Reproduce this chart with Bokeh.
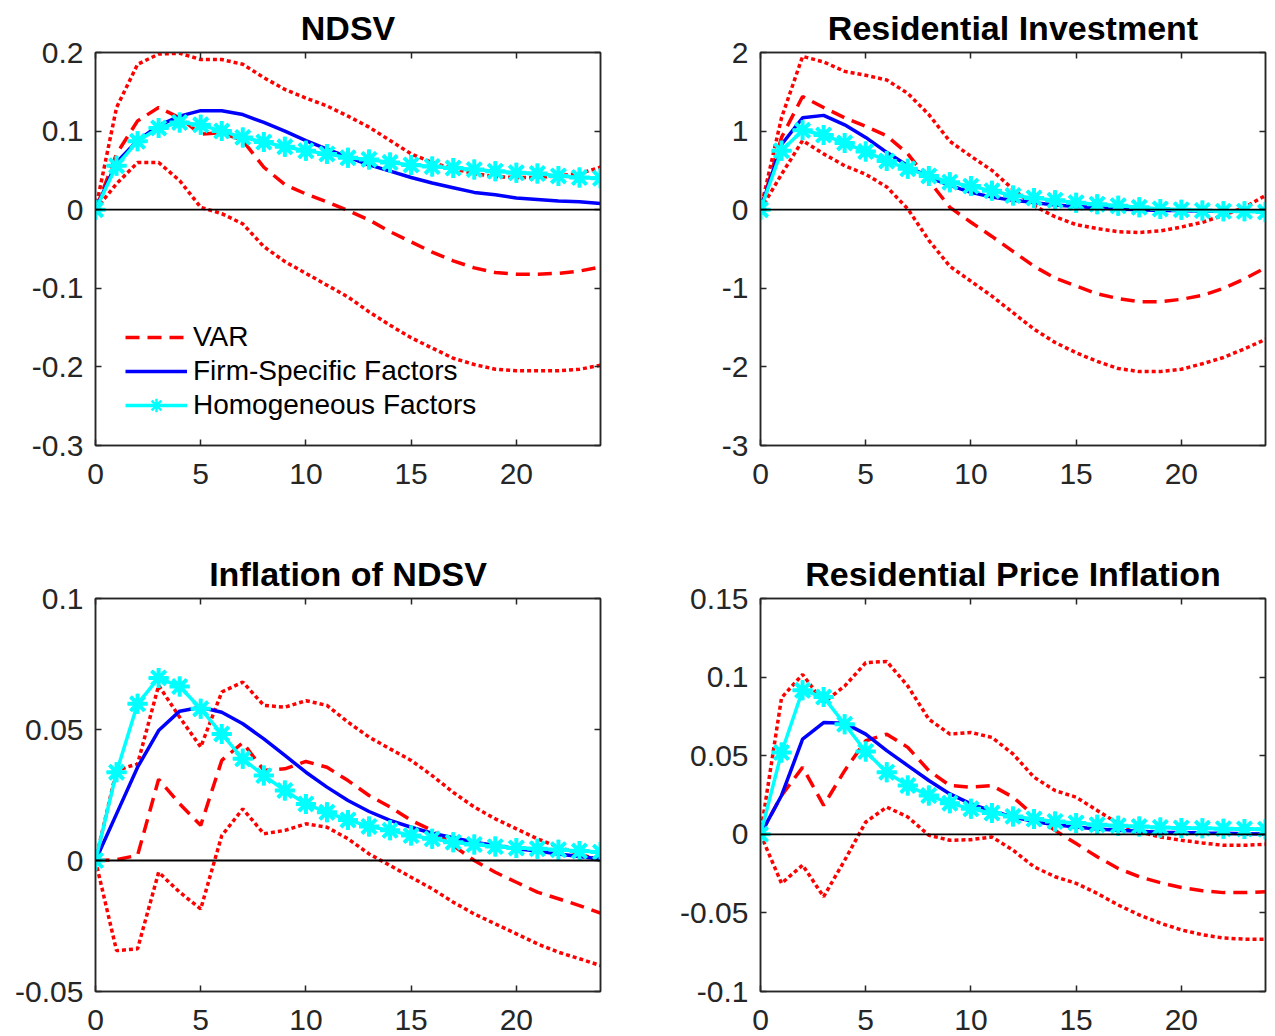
from bokeh.plotting import figure
from bokeh.models import (Range1d, FixedTicker, CustomJSTickFormatter, LinearAxis,
                          Span, Legend, LegendItem)
from bokeh.layouts import row, column
from bokeh.embed import file_html
from bokeh.resources import INLINE

# ---------------- data ----------------
horizon = list(range(25))
x_ticks = [0, 5, 10, 15, 20]
x_labels = ["0", "5", "10", "15", "20"]

# NDSV
ndsv_var = [0, 0.071, 0.113, 0.130, 0.117, 0.096, 0.098, 0.088, 0.054, 0.032, 0.020, 0.010, -0.001,
            -0.013, -0.028, -0.041, -0.054, -0.065, -0.074, -0.080, -0.082, -0.082, -0.081, -0.078, -0.073]
ndsv_hi = [0, 0.130, 0.185, 0.198, 0.199, 0.191, 0.191, 0.185, 0.168, 0.153, 0.142, 0.132, 0.119,
           0.105, 0.088, 0.071, 0.060, 0.052, 0.046, 0.042, 0.041, 0.041, 0.043, 0.046, 0.054]
ndsv_lo = [0, 0.033, 0.060, 0.060, 0.037, 0.003, -0.005, -0.018, -0.047, -0.066, -0.081, -0.096, -0.111,
           -0.130, -0.147, -0.163, -0.176, -0.189, -0.197, -0.203, -0.205, -0.205, -0.205, -0.203, -0.198]
ndsv_firm = [0, 0.060, 0.088, 0.107, 0.119, 0.126, 0.126, 0.121, 0.111, 0.100, 0.088, 0.077, 0.067,
             0.057, 0.049, 0.041, 0.034, 0.028, 0.022, 0.019, 0.015, 0.013, 0.011, 0.010, 0.008]
ndsv_homo = [0, 0.056, 0.087, 0.104, 0.111, 0.108, 0.100, 0.092, 0.086, 0.080, 0.075, 0.071, 0.066,
             0.064, 0.060, 0.057, 0.055, 0.053, 0.051, 0.049, 0.047, 0.046, 0.043, 0.041, 0.040]
ndsv_yticks = [-0.3, -0.2, -0.1, 0, 0.1, 0.2]
ndsv_ylabels = ["-0.3", "-0.2", "-0.1", "0", "0.1", "0.2"]

# Residential Investment
resinv_var = [0, 0.92, 1.44, 1.30, 1.17, 1.06, 0.94, 0.71, 0.37, 0.03, -0.16, -0.34, -0.53,
              -0.72, -0.87, -0.97, -1.07, -1.13, -1.17, -1.17, -1.14, -1.09, -1.00, -0.88, -0.74]
resinv_hi = [0, 1.17, 1.95, 1.88, 1.76, 1.71, 1.65, 1.48, 1.21, 0.87, 0.68, 0.50, 0.26,
             0.05, -0.09, -0.19, -0.24, -0.28, -0.29, -0.27, -0.22, -0.16, -0.07, 0.03, 0.18]
resinv_lo = [0, 0.45, 0.88, 0.71, 0.56, 0.45, 0.29, 0.01, -0.39, -0.72, -0.91, -1.10, -1.31,
             -1.52, -1.69, -1.82, -1.93, -2.02, -2.06, -2.06, -2.03, -1.96, -1.88, -1.77, -1.65]
resinv_firm = [0, 0.83, 1.17, 1.20, 1.08, 0.92, 0.73, 0.56, 0.41, 0.31, 0.22, 0.16, 0.12,
               0.09, 0.06, 0.04, 0.025, 0.01, 0.0, -0.01, -0.01, -0.02, -0.02, -0.02, -0.02]
resinv_homo = [0, 0.75, 1.01, 0.95, 0.85, 0.74, 0.62, 0.52, 0.43, 0.35, 0.30, 0.24, 0.18,
               0.15, 0.12, 0.09, 0.07, 0.05, 0.03, 0.01, 0.0, -0.01, -0.02, -0.02, -0.03]
resinv_yticks = [-3, -2, -1, 0, 1, 2]
resinv_ylabels = ["-3", "-2", "-1", "0", "1", "2"]

# Inflation of NDSV
infl_var = [0, 0.0003, 0.002, 0.031, 0.0216, 0.0134, 0.0382, 0.045, 0.0344, 0.0350, 0.0378, 0.0356, 0.0305,
            0.0248, 0.0204, 0.0153, 0.0115, 0.0057, 0.0, -0.0045, -0.0083, -0.0121, -0.0146, -0.0172, -0.0201]
infl_hi = [0, 0.0344, 0.0369, 0.0668, 0.0547, 0.0433, 0.0643, 0.0681, 0.0592, 0.0585, 0.061, 0.0592, 0.0528,
           0.0471, 0.0426, 0.0382, 0.0324, 0.026, 0.0204, 0.0159, 0.0121, 0.0083, 0.0051, 0.0025, 0.0]
infl_lo = [0, -0.0344, -0.0337, -0.0045, -0.0121, -0.0185, 0.0095, 0.0197, 0.0102, 0.0115, 0.014, 0.0127, 0.0083,
           0.0025, -0.0019, -0.0064, -0.0108, -0.0159, -0.0204, -0.0242, -0.028, -0.0318, -0.035, -0.0375, -0.0401]
infl_firm = [0, 0.0178, 0.0356, 0.0496, 0.057, 0.0585, 0.0566, 0.0522, 0.0464, 0.0401, 0.0337, 0.028, 0.0229,
             0.0187, 0.0153, 0.0127, 0.0104, 0.0087, 0.0070, 0.0057, 0.0045, 0.0036, 0.0025, 0.0015, 0.0006]
infl_homo = [0, 0.0337, 0.0598, 0.0697, 0.0664, 0.0579, 0.0483, 0.0388, 0.0324, 0.0267, 0.0216, 0.0184, 0.0155,
             0.0130, 0.0115, 0.0095, 0.0083, 0.0070, 0.0061, 0.0053, 0.0048, 0.0045, 0.0041, 0.0036, 0.0032]
infl_yticks = [-0.05, 0, 0.05, 0.1]
infl_ylabels = ["-0.05", "0", "0.05", "0.1"]

# Residential Price Inflation
rpi_var = [0, 0.0247, 0.0426, 0.0184, 0.0405, 0.0595, 0.0637, 0.0553, 0.0405, 0.031, 0.030, 0.031, 0.0236,
           0.012, 0.0025, -0.0059, -0.0143, -0.0217, -0.027, -0.0308, -0.0338, -0.0359, -0.0371, -0.0371, -0.0365]
rpi_hi = [0, 0.0869, 0.1017, 0.0838, 0.0943, 0.1091, 0.110, 0.0943, 0.0732, 0.0637, 0.0648, 0.0616, 0.0511,
          0.0363, 0.0278, 0.0236, 0.0152, 0.0068, 0.0015, -0.0017, -0.0038, -0.0055, -0.007, -0.007, -0.0063]
rpi_lo = [0, -0.0312, -0.0196, -0.0397, -0.0165, 0.0078, 0.0173, 0.011, -0.0006, -0.0038, -0.0034, -0.0017, -0.0101,
          -0.0207, -0.027, -0.0312, -0.0376, -0.045, -0.0513, -0.0565, -0.0608, -0.0639, -0.066, -0.0667, -0.0667]
rpi_firm = [0, 0.0247, 0.0605, 0.0711, 0.0707, 0.0637, 0.0532, 0.0437, 0.0342, 0.0257, 0.0194, 0.0148, 0.011,
            0.0082, 0.0061, 0.0046, 0.0034, 0.0025, 0.0019, 0.0013, 0.0011, 0.0008, 0.0006, 0.0004, 0.0002]
rpi_homo = [0, 0.052, 0.0916, 0.0873, 0.070, 0.0527, 0.0395, 0.031, 0.0247, 0.0198, 0.0162, 0.0135, 0.0114,
            0.0097, 0.0082, 0.0072, 0.0061, 0.0055, 0.0049, 0.0044, 0.004, 0.0038, 0.0036, 0.0034, 0.0032]
rpi_yticks = [-0.1, -0.05, 0, 0.05, 0.1, 0.15]
rpi_ylabels = ["-0.1", "-0.05", "0", "0.05", "0.1", "0.15"]

legend_labels = ["VAR", "Firm-Specific Factors", "Homogeneous Factors"]

# ---------------- style ----------------
FONT = "Liberation Sans"
AX = "#262626"
TICK_FS = "30px"
TITLE_FS = "34px"

FORMAT_CODE = """
for (let i = 0; i < vals.length; i++) {
  if (Math.abs(tick - vals[i]) < 1e-9) { return labs[i]; }
}
return "";
"""


def fmt(vals, labs):
    return CustomJSTickFormatter(args=dict(vals=vals, labs=labs), code=FORMAT_CODE)


def style_axis(ax, show_labels):
    ax.axis_line_color = AX
    ax.axis_line_width = 1.5
    ax.major_tick_line_color = AX
    ax.major_tick_line_width = 1.5
    ax.major_tick_in = 6
    ax.major_tick_out = 0
    ax.minor_tick_in = 0
    ax.minor_tick_out = 0
    ax.major_label_text_font = FONT
    ax.major_label_text_font_size = TICK_FS
    ax.major_label_text_color = AX
    if not show_labels:
        ax.major_label_text_font_size = "0px"
        ax.major_label_standoff = 0


def make_panel(title, yr, yticks, ylabels, var, hi, lo, firm, homo,
               width, height, left, right, top, bottom, legend=False):
    p = figure(width=width, height=height, x_range=Range1d(0, 24), y_range=Range1d(*yr),
               output_backend="svg", toolbar_location=None,
               min_border_left=left, min_border_right=right,
               min_border_top=top, min_border_bottom=bottom)
    p.title.text = title
    p.title.align = "center"
    p.title.text_font = FONT
    p.title.text_font_size = TITLE_FS
    p.title.text_font_style = "bold"
    p.title.text_color = "black"
    p.title.standoff = 11
    p.grid.visible = False
    p.outline_line_color = AX
    p.outline_line_width = 1.5
    p.background_fill_color = "white"
    p.border_fill_color = "white"

    p.xaxis.ticker = FixedTicker(ticks=x_ticks)
    p.yaxis.ticker = FixedTicker(ticks=yticks)
    p.xaxis.formatter = fmt(x_ticks, x_labels)
    p.yaxis.formatter = fmt(yticks, ylabels)
    style_axis(p.xaxis[0], True)
    style_axis(p.yaxis[0], True)
    p.xaxis.major_label_standoff = 18
    p.yaxis.major_label_standoff = 12

    top_ax = LinearAxis(ticker=FixedTicker(ticks=x_ticks), formatter=fmt([], []))
    right_ax = LinearAxis(ticker=FixedTicker(ticks=yticks), formatter=fmt([], []))
    style_axis(top_ax, False)
    style_axis(right_ax, False)
    p.add_layout(top_ax, "above")
    p.add_layout(right_ax, "right")

    p.add_layout(Span(location=0, dimension="width", line_color="black", line_width=1.8))

    r_hi = p.line(horizon, hi, line_color="red", line_width=3.5, line_dash="4 3")
    r_lo = p.line(horizon, lo, line_color="red", line_width=3.5, line_dash="4 3")
    r_var = p.line(horizon, var, line_color="red", line_width=3.5, line_dash="14 8")
    r_firm = p.line(horizon, firm, line_color="blue", line_width=3.5)
    r_homo = p.line(horizon, homo, line_color="cyan", line_width=3.5)
    p.scatter(horizon, homo, marker="asterisk", size=20, line_color="cyan", line_width=4)
    # same markers with thinner strokes on top (invisible change); used as the legend key
    r_homo_key = p.scatter(horizon, homo, marker="asterisk", size=20, line_color="cyan", line_width=2.5)

    if legend:
        lg = Legend(items=[LegendItem(label=legend_labels[0], renderers=[r_var]),
                           LegendItem(label=legend_labels[1], renderers=[r_firm]),
                           LegendItem(label=legend_labels[2], renderers=[r_homo, r_homo_key])],
                    location=(30, 23), orientation="vertical",
                    border_line_alpha=0, background_fill_alpha=0,
                    padding=0, margin=0, spacing=0,
                    label_height=34, glyph_height=34, glyph_width=62, label_standoff=6,
                    label_text_font=FONT, label_text_font_size="28px", label_text_color="black")
        p.add_layout(lg)
    return p


p1 = make_panel("NDSV", (-0.3, 0.2), ndsv_yticks, ndsv_ylabels,
                ndsv_var, ndsv_hi, ndsv_lo, ndsv_firm, ndsv_homo,
                672, 540, 95, 72, 52, 95, legend=True)
p2 = make_panel("Residential Investment", (-3, 2), resinv_yticks, resinv_ylabels,
                resinv_var, resinv_hi, resinv_lo, resinv_firm, resinv_homo,
                599, 540, 88, 6, 52, 95)
p3 = make_panel("Inflation of NDSV", (-0.05, 0.1), infl_yticks, infl_ylabels,
                infl_var, infl_hi, infl_lo, infl_firm, infl_homo,
                672, 496, 95, 72, 58, 45)
p4 = make_panel("Residential Price Inflation", (-0.1, 0.15), rpi_yticks, rpi_ylabels,
                rpi_var, rpi_hi, rpi_lo, rpi_firm, rpi_homo,
                599, 496, 88, 6, 58, 45)

layout = column(row(p1, p2), row(p3, p4))
open("out.html", "w").write(file_html(layout, INLINE))
